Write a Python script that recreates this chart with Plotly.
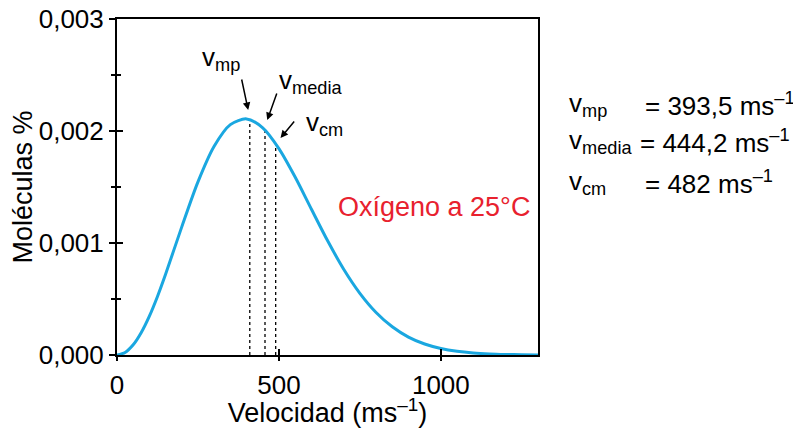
import plotly.graph_objects as go

# Speed distribution of O2 at 25 °C
speed = [0, 25, 50, 75, 100, 125, 150, 200, 250, 300, 350, 400, 450, 500, 550,
         600, 650, 700, 750, 800, 850, 900, 950, 1000, 1050, 1100, 1150, 1200,
         1250, 1300]
fraction = [0.0, 0.000023, 0.000091, 0.000201, 0.000347, 0.000523, 0.000721,
            0.001144, 0.001546, 0.001864, 0.002057, 0.002108, 0.002028,
            0.001843, 0.001589, 0.001304, 0.001022, 0.000766, 0.000551,
            0.000380, 0.000252, 0.000160, 0.000098, 0.000058, 0.000033,
            0.000018, 0.0000095, 0.0000048, 0.0000023, 0.0000011]

# Characteristic speeds (dashed markers as drawn) and their tabulated values
marker_names = ["mp", "media", "cm"]
marker_speed = [410, 457, 490]
marker_height = [0.002103, 0.002008, 0.001886]
marker_values = ["393,5", "444,2", "482"]

x_tickvals = [0, 500, 1000]
x_ticktext = ["0", "500", "1000"]
y_tickvals = [0, 0.001, 0.002, 0.003]
y_ticktext = ["0,000", "0,001", "0,002", "0,003"]

FONT = "Liberation Sans"
FS_TICK = 26
FS = 27
CURVE = "#1aa7e0"

fig = go.Figure()

for xs, hs in zip(marker_speed, marker_height):
    fig.add_trace(go.Scatter(x=[xs, xs], y=[0, hs], mode="lines",
                             line=dict(color="black", width=1.3, dash="3px,3px"),
                             hoverinfo="skip"))

fig.add_trace(go.Scatter(x=speed, y=fraction, mode="lines",
                         line=dict(color=CURVE, width=3, shape="spline", smoothing=0.8)))

# invisible trace for overlay axes (inside half of crossing ticks)
fig.add_trace(go.Scatter(x=speed, y=fraction, mode="lines", xaxis="x2", yaxis="y2",
                         line=dict(color="rgba(0,0,0,0)"), hoverinfo="skip"))

axis_common = dict(showgrid=False, zeroline=False, tickcolor="black",
                   tickwidth=1.5, automargin=False)

# the page body has an 8px default margin; the figure is sized to compensate
fig.update_layout(
    width=793, height=420,
    margin=dict(l=109, r=263, t=11, b=73, autoexpand=False),
    plot_bgcolor="white", paper_bgcolor="white",
    showlegend=False,
    font=dict(family=FONT, size=FS, color="black"),
    xaxis=dict(range=[0, 1300], tickvals=x_tickvals, ticktext=x_ticktext,
               ticks="outside", ticklen=4, showline=True, linecolor="black",
               linewidth=2, mirror=True, ticklabelstandoff=2,
               ticklabeloverflow="allow",
               title=dict(text="Velocidad (ms<sup>–1</sup>)", standoff=6,
                          font=dict(size=FS)),
               tickfont=dict(size=FS_TICK), **axis_common),
    yaxis=dict(range=[0, 0.003], tickvals=y_tickvals, ticktext=y_ticktext,
               ticks="outside", ticklen=6, showline=True, linecolor="black",
               linewidth=2, mirror=True, ticklabeloverflow="allow",
               minor=dict(tickvals=[0.0005, 0.0015, 0.0025], ticks="outside",
                          ticklen=4, tickcolor="black", tickwidth=1.5),
               title=dict(text="Moléculas %", standoff=8, font=dict(size=FS)),
               tickfont=dict(size=FS_TICK), **axis_common),
    xaxis2=dict(overlaying="x", range=[0, 1300], tickvals=x_tickvals,
                ticks="inside", ticklen=6, showticklabels=False, showline=False,
                side="bottom", **axis_common),
    yaxis2=dict(overlaying="y", range=[0, 0.003], tickvals=y_tickvals,
                ticks="inside", ticklen=6, showticklabels=False, showline=False,
                minor=dict(tickvals=[0.0005, 0.0015, 0.0025], ticks="inside",
                           ticklen=4, tickcolor="black", tickwidth=1.5),
                side="left", **axis_common),
)

def sub_label(name):
    return "v<sub>" + name + "</sub>"

# labels near the curve with arrows
label_pos = [(257, 0.002643), (495, 0.002446), (576, 0.002071)]
arrow_tail = [(384, 0.002473), (495, 0.002348), (551, 0.002098)]
arrow_head = [(405, 0.002188), (464, 0.002098), (505, 0.001938)]
for name, (lx, ly), (tx, ty), (hx, hy) in zip(marker_names, label_pos, arrow_tail, arrow_head):
    fig.add_annotation(x=lx, y=ly, xref="x", yref="y", text=sub_label(name),
                       showarrow=False, xanchor="left", yanchor="middle",
                       font=dict(size=26))
    fig.add_annotation(x=hx, y=hy, ax=tx, ay=ty, xref="x", yref="y",
                       axref="x", ayref="y", text="", showarrow=True,
                       arrowhead=2, arrowsize=1, arrowwidth=1.5,
                       arrowcolor="black", standoff=0, startstandoff=0)

fig.add_annotation(x=675, y=0.001321, xref="x", yref="y",
                   text="Oxígeno a 25°C", showarrow=False, xanchor="left",
                   yanchor="middle", font=dict(size=FS, color="#e8212e"))

# right-hand table of values
row_y = [0.747, 0.634, 0.512]
eq_x = [1.250, 1.237, 1.250]
for name, val, ry, ex in zip(marker_names, marker_values, row_y, eq_x):
    fig.add_annotation(x=1.069, y=ry, xref="paper", yref="paper",
                       text=sub_label(name), showarrow=False,
                       xanchor="left", yanchor="middle", font=dict(size=26))
    fig.add_annotation(x=ex, y=ry, xref="paper", yref="paper",
                       text="= " + val + " ms<sup>–1</sup>", showarrow=False,
                       xanchor="left", yanchor="middle", font=dict(size=26))

fig.write_html("out.html")
